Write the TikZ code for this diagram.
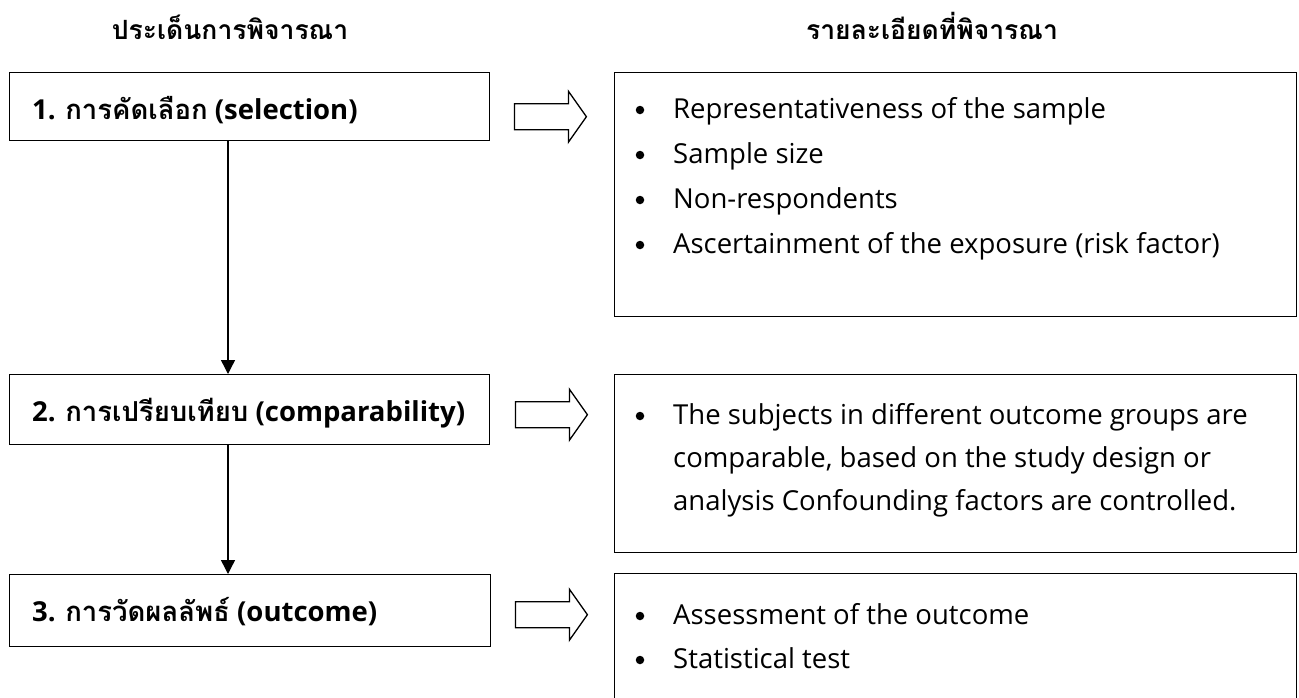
\documentclass[tikz,border=0pt]{standalone}
\usepackage{fontspec}
\setmainfont{Open Sans}
\newfontfamily\thaifont[Script=Thai]{Loma}
\usetikzlibrary{arrows.meta,calc}
\begin{document}
\begin{tikzpicture}[x=1pt,y=-1pt,
  box/.style={draw, line width=1.4pt, rectangle, inner sep=0pt, anchor=north west},
  lbl/.style={anchor=base west, inner sep=0pt, font=\fontsize{27.5}{33}\selectfont\bfseries},
  ttl/.style={anchor=base, inner sep=0pt, font=\fontsize{26.5}{30}\selectfont\bfseries\thaifont},
  item/.style={anchor=base west, inner sep=0pt, font=\fontsize{27.5}{33}\selectfont},
  dot/.style={circle, fill=black, inner sep=0pt, minimum size=8.5pt},
  conn/.style={line width=1.4pt, -{Triangle[length=14pt,width=14pt]}},
  hollowarrow/.pic={\draw[line width=1.3pt, line join=miter, fill=white]
    (0,-13) -- (54,-13) -- (54,-25.5) -- (72,0) -- (54,25.5) -- (54,13) -- (0,13) -- cycle;}
]
\useasboundingbox (0,0) rectangle (1299,697);

% column headings
\node[ttl] (h1) at (230,39) {ประเด็นการพิจารณา};
\node[ttl] (h2) at (932,39) {รายละเอียดที่พิจารณา};

% left column: steps
\node[box, minimum width=480pt, minimum height=68pt] (b1) at (9,72) {};
\node[box, minimum width=480pt, minimum height=70pt] (b2) at (9,374) {};
\node[box, minimum width=481pt, minimum height=72pt] (b3) at (9,574) {};

\node[lbl] (l1) at (32,119) {1. {\thaifont การคัดเลือก} (selection)};
\node[lbl] (l2) at (32,421) {2. {\thaifont การเปรียบเทียบ} (comparability)};
\node[lbl] (l3) at (32,621) {3. {\thaifont การวัดผลลัพธ์} (outcome)};

% right column: details
\node[box, minimum width=682pt, minimum height=244pt] (r1) at (614,72) {};
\node[box, minimum width=682pt, minimum height=178pt] (r2) at (614,374) {};
\node[box, minimum width=682pt, minimum height=170pt] (r3) at (614,573) {};

\node[item] (i11) at (673,118) {Representativeness of the sample};
\node[item] (i12) at (673,163) {Sample size};
\node[item] (i13) at (673,208) {Non-respondents};
\node[item] (i14) at (673,253) {Ascertainment of the exposure (risk factor)};
\node[item] (i21) at (673,424) {The subjects in different outcome groups are};
\node[item] (i22) at (673,467) {comparable, based on the study design or};
\node[item] (i23) at (673,510) {analysis Confounding factors are controlled.};
\node[item] (i31) at (673,624) {Assessment of the outcome};
\node[item] (i32) at (673,668) {Statistical test};

% bullets in front of each item
\foreach \n in {i11,i12,i13,i14,i21,i31,i32}
  \node[dot] at ($(\n.base west)+(-33,-8)$) {};

% flow between steps
\coordinate (ax) at (228,0);
\draw[conn] (b1.south -| ax) -- (b2.north -| ax);
\draw[conn] (b2.south -| ax) -- (b3.north -| ax);

% block arrows from each step to its details
\pic at ($(b1.east)+(24,10)$) {hollowarrow};
\pic at ($(b2.east)+(25,5)$) {hollowarrow};
\pic at ($(b3.east)+(24,4)$) {hollowarrow};
\end{tikzpicture}
\end{document}
